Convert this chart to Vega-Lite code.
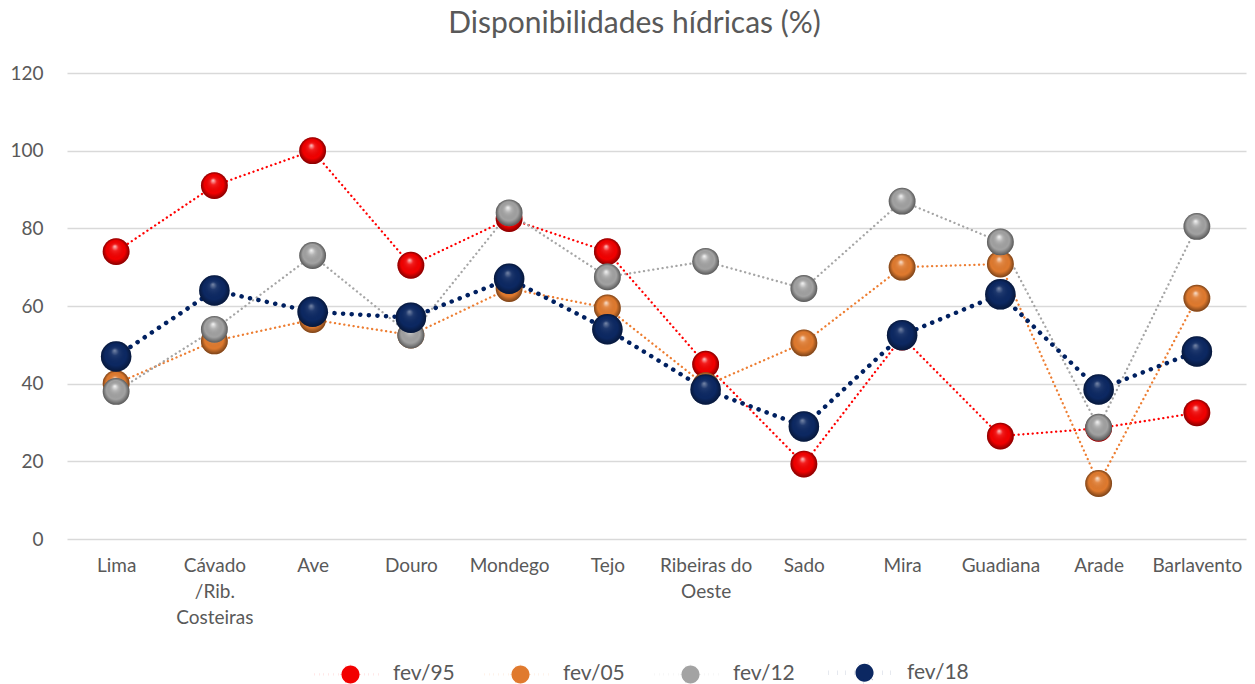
{
  "$schema": "https://vega.github.io/schema/vega-lite/v6.json",
  "width": 1179,
  "height": 466,
  "autosize": {"type": "none"},
  "padding": {"left": 67, "top": 73, "right": 9, "bottom": 145},
  "background": "white",
  "title": {"text": "Disponibilidades hídricas (%)", "font": "Lato", "fontSize": 30, "fontWeight": "normal", "color": "#595959", "offset": 25, "dx": -22},
  "config": {
    "view": {"stroke": null},
    "font": "Lato",
    "legend": {
      "title": null, "orient": "none", "direction": "horizontal", "columns": 4,
      "legendX": 272, "legendY": 588,
      "labelFont": "Lato", "labelFontSize": 21, "labelColor": "#595959",
      "symbolSize": 324,
      "symbolType": "M-4,0 L-1,0 M1,0 L3.3,0 M-1,0 A1,1 0 1,1 1,0 A1,1 0 1,1 -1,0 Z",
      "symbolOpacity": 1,
      "columnPadding": 24, "labelOffset": 31
    }
  },
  "data": {
    "values": [
      {"bacia": "Lima", "serie": "fev/95", "valor": 74},
      {"bacia": "Cávado /Rib. Costeiras", "serie": "fev/95", "valor": 91},
      {"bacia": "Ave", "serie": "fev/95", "valor": 100},
      {"bacia": "Douro", "serie": "fev/95", "valor": 70.5},
      {"bacia": "Mondego", "serie": "fev/95", "valor": 82.5},
      {"bacia": "Tejo", "serie": "fev/95", "valor": 74},
      {"bacia": "Ribeiras do Oeste", "serie": "fev/95", "valor": 45},
      {"bacia": "Sado", "serie": "fev/95", "valor": 19.3},
      {"bacia": "Mira", "serie": "fev/95", "valor": 52},
      {"bacia": "Guadiana", "serie": "fev/95", "valor": 26.5},
      {"bacia": "Arade", "serie": "fev/95", "valor": 28.5},
      {"bacia": "Barlavento", "serie": "fev/95", "valor": 32.5},
      {"bacia": "Lima", "serie": "fev/05", "valor": 40},
      {"bacia": "Cávado /Rib. Costeiras", "serie": "fev/05", "valor": 51},
      {"bacia": "Ave", "serie": "fev/05", "valor": 56.5},
      {"bacia": "Douro", "serie": "fev/05", "valor": 52.5},
      {"bacia": "Mondego", "serie": "fev/05", "valor": 64.5},
      {"bacia": "Tejo", "serie": "fev/05", "valor": 59.5},
      {"bacia": "Ribeiras do Oeste", "serie": "fev/05", "valor": 39.5},
      {"bacia": "Sado", "serie": "fev/05", "valor": 50.5},
      {"bacia": "Mira", "serie": "fev/05", "valor": 70},
      {"bacia": "Guadiana", "serie": "fev/05", "valor": 70.8},
      {"bacia": "Arade", "serie": "fev/05", "valor": 14.3},
      {"bacia": "Barlavento", "serie": "fev/05", "valor": 62},
      {"bacia": "Lima", "serie": "fev/12", "valor": 38},
      {"bacia": "Cávado /Rib. Costeiras", "serie": "fev/12", "valor": 54},
      {"bacia": "Ave", "serie": "fev/12", "valor": 73},
      {"bacia": "Douro", "serie": "fev/12", "valor": 52.5},
      {"bacia": "Mondego", "serie": "fev/12", "valor": 84},
      {"bacia": "Tejo", "serie": "fev/12", "valor": 67.5},
      {"bacia": "Ribeiras do Oeste", "serie": "fev/12", "valor": 71.5},
      {"bacia": "Sado", "serie": "fev/12", "valor": 64.5},
      {"bacia": "Mira", "serie": "fev/12", "valor": 87},
      {"bacia": "Guadiana", "serie": "fev/12", "valor": 76.5},
      {"bacia": "Arade", "serie": "fev/12", "valor": 28.8},
      {"bacia": "Barlavento", "serie": "fev/12", "valor": 80.5},
      {"bacia": "Lima", "serie": "fev/18", "valor": 47},
      {"bacia": "Cávado /Rib. Costeiras", "serie": "fev/18", "valor": 64},
      {"bacia": "Ave", "serie": "fev/18", "valor": 58.5},
      {"bacia": "Douro", "serie": "fev/18", "valor": 57},
      {"bacia": "Mondego", "serie": "fev/18", "valor": 67},
      {"bacia": "Tejo", "serie": "fev/18", "valor": 54},
      {"bacia": "Ribeiras do Oeste", "serie": "fev/18", "valor": 38.5},
      {"bacia": "Sado", "serie": "fev/18", "valor": 29},
      {"bacia": "Mira", "serie": "fev/18", "valor": 52.5},
      {"bacia": "Guadiana", "serie": "fev/18", "valor": 63},
      {"bacia": "Arade", "serie": "fev/18", "valor": 38.5},
      {"bacia": "Barlavento", "serie": "fev/18", "valor": 48.3}
    ]
  },
  "encoding": {
    "x": {
      "field": "bacia", "type": "nominal", "sort": null,
      "scale": {"paddingInner": 0, "paddingOuter": 0},
      "axis": {
        "title": null, "labelAngle": 0, "domain": false, "ticks": false, "grid": false,
        "labelFont": "Lato", "labelFontSize": 19, "labelColor": "#595959", "labelPadding": 17,
        "labelLineHeight": 26, "labelBaseline": "top",
        "labelExpr": "datum.label == 'Cávado /Rib. Costeiras' ? ['Cávado', '/Rib.', 'Costeiras'] : datum.label == 'Ribeiras do Oeste' ? ['Ribeiras do', 'Oeste'] : datum.label"
      }
    },
    "y": {
      "field": "valor", "type": "quantitative",
      "scale": {"domain": [0, 120]},
      "axis": {
        "title": null, "values": [0, 20, 40, 60, 80, 100, 120], "domain": false, "ticks": false,
        "gridColor": "#d9d9d9", "gridWidth": 1.5,
        "labelFont": "Lato", "labelFontSize": 19, "labelColor": "#595959", "labelPadding": 24
      }
    }
  },
  "layer": [
    {
      "mark": {"type": "line", "strokeCap": "round"},
      "encoding": {
        "stroke": {
          "field": "serie", "type": "nominal",
          "scale": {"domain": ["fev/95", "fev/05", "fev/12", "fev/18"], "range": ["#ff0000", "#ed7d31", "#a5a5a5", "#002060"]}
        },
        "strokeWidth": {
          "field": "serie", "type": "ordinal",
          "scale": {"type": "ordinal", "domain": ["fev/95", "fev/05", "fev/12", "fev/18"], "range": [2.3, 2.3, 2.3, 4.5]}
        },
        "strokeDash": {
          "field": "serie", "type": "nominal",
          "scale": {"domain": ["fev/95", "fev/05", "fev/12", "fev/18"], "range": [[0.1, 4.6], [0.1, 4.6], [0.1, 4.6], [0.1, 8.5]]}
        }
      }
    },
    {
      "transform": [{"filter": "datum.serie == 'fev/95'"}],
      "mark": {"type": "point", "shape": "circle", "filled": true, "opacity": 1, "strokeWidth": 0, "size": 720},
      "encoding": {
        "fill": {
          "field": "serie", "type": "nominal",
          "scale": {"domain": ["fev/95", "fev/05", "fev/12", "fev/18"], "range": ["#f20000", "#e07a2e", "#a3a3a3", "#0c2862"]}
        }
      }
    },
    {
      "transform": [{"filter": "datum.serie == 'fev/95'"}],
      "mark": {"type": "point", "shape": "circle", "filled": true, "opacity": 1, "strokeWidth": 0, "size": 720,
        "fill": {"gradient": "radial", "x1": 0.45, "y1": 0.3, "r1": 0, "x2": 0.5, "y2": 0.5, "r2": 0.5,
          "stops": [{"offset": 0, "color": "rgba(255,255,255,0.8)"}, {"offset": 0.25, "color": "rgba(255,255,255,0.12)"}, {"offset": 0.7, "color": "rgba(0,0,0,0)"}, {"offset": 1, "color": "rgba(0,0,0,0.45)"}]}}
    },
    {
      "transform": [{"filter": "datum.serie == 'fev/05'"}],
      "mark": {"type": "point", "shape": "circle", "filled": true, "opacity": 1, "strokeWidth": 0, "size": 720},
      "encoding": {"fill": {"field": "serie", "type": "nominal"}}
    },
    {
      "transform": [{"filter": "datum.serie == 'fev/05'"}],
      "mark": {"type": "point", "shape": "circle", "filled": true, "opacity": 1, "strokeWidth": 0, "size": 720,
        "fill": {"gradient": "radial", "x1": 0.45, "y1": 0.3, "r1": 0, "x2": 0.5, "y2": 0.5, "r2": 0.5,
          "stops": [{"offset": 0, "color": "rgba(255,255,255,0.8)"}, {"offset": 0.25, "color": "rgba(255,255,255,0.12)"}, {"offset": 0.7, "color": "rgba(0,0,0,0)"}, {"offset": 1, "color": "rgba(0,0,0,0.45)"}]}}
    },
    {
      "transform": [{"filter": "datum.serie == 'fev/12'"}],
      "mark": {"type": "point", "shape": "circle", "filled": true, "opacity": 1, "strokeWidth": 0, "size": 720},
      "encoding": {"fill": {"field": "serie", "type": "nominal"}}
    },
    {
      "transform": [{"filter": "datum.serie == 'fev/12'"}],
      "mark": {"type": "point", "shape": "circle", "filled": true, "opacity": 1, "strokeWidth": 0, "size": 720,
        "fill": {"gradient": "radial", "x1": 0.45, "y1": 0.3, "r1": 0, "x2": 0.5, "y2": 0.5, "r2": 0.5,
          "stops": [{"offset": 0, "color": "rgba(255,255,255,0.9)"}, {"offset": 0.25, "color": "rgba(255,255,255,0.2)"}, {"offset": 0.7, "color": "rgba(0,0,0,0)"}, {"offset": 1, "color": "rgba(0,0,0,0.45)"}]}}
    },
    {
      "transform": [{"filter": "datum.serie == 'fev/18'"}],
      "mark": {"type": "point", "shape": "circle", "filled": true, "opacity": 1, "strokeWidth": 0, "size": 930},
      "encoding": {"fill": {"field": "serie", "type": "nominal"}}
    },
    {
      "transform": [{"filter": "datum.serie == 'fev/18'"}],
      "mark": {"type": "point", "shape": "circle", "filled": true, "opacity": 1, "strokeWidth": 0, "size": 930,
        "fill": {"gradient": "radial", "x1": 0.45, "y1": 0.3, "r1": 0, "x2": 0.5, "y2": 0.5, "r2": 0.5,
          "stops": [{"offset": 0, "color": "rgba(255,255,255,0.45)"}, {"offset": 0.25, "color": "rgba(255,255,255,0.08)"}, {"offset": 0.7, "color": "rgba(0,0,0,0)"}, {"offset": 1, "color": "rgba(0,0,0,0.4)"}]}}
    }
  ]
}
